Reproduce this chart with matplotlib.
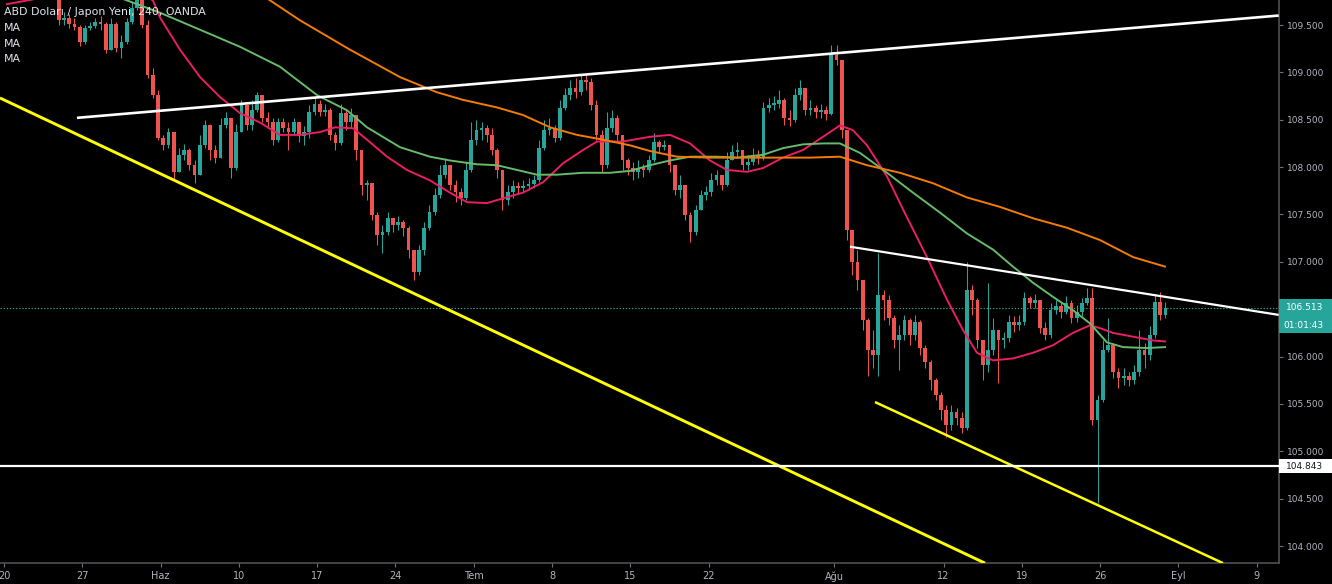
#USD/JPY 4h chart with moving averages and trend lines, TradingView style
import numpy as np
import matplotlib
matplotlib.use('Agg')
import matplotlib.pyplot as plt
import matplotlib.transforms as mtransforms
from matplotlib.patches import Rectangle

# time axis is in trading days counted from May 20 (weekdays only), 3 bars per day
first_bar_day = 3.5
bars_per_day = 3
first_open = 109.85

closes = [
    109.55, 109.57, 109.51, 109.48, 109.32, 109.47, 109.49, 109.53, 109.51, 109.24,
    109.51, 109.26, 109.32, 109.53, 109.68, 109.82, 109.50, 108.97, 108.76, 108.31,
    108.23, 108.37, 107.95, 108.13, 108.18, 108.02, 107.92, 108.23, 108.44, 108.18,
    108.10, 108.44, 108.52, 107.99, 108.37, 108.66, 108.44, 108.60, 108.76, 108.52,
    108.48, 108.29, 108.48, 108.41, 108.37, 108.48, 108.33, 108.37, 108.58, 108.67,
    108.58, 108.60, 108.34, 108.25, 108.57, 108.48, 108.55, 108.18, 107.81, 107.83,
    107.49, 107.28, 107.31, 107.46, 107.39, 107.42, 107.36, 107.13, 106.89, 107.13,
    107.36, 107.53, 107.71, 107.92, 108.02, 107.81, 107.74, 107.67, 107.97, 108.29,
    108.39, 108.41, 108.34, 108.18, 107.97, 107.65, 107.74, 107.80, 107.78, 107.80,
    107.82, 107.86, 108.20, 108.39, 108.41, 108.31, 108.62, 108.76, 108.84, 108.79,
    108.92, 108.90, 108.66, 108.34, 108.02, 108.41, 108.52, 108.34, 108.07, 107.99,
    107.95, 107.99, 107.97, 108.07, 108.27, 108.21, 108.23, 108.02, 107.76, 107.81,
    107.49, 107.31, 107.55, 107.71, 107.74, 107.86, 107.92, 107.81, 108.07, 108.16,
    108.18, 108.02, 108.05, 108.13, 108.10, 108.62, 108.66, 108.67, 108.71, 108.52,
    108.50, 108.76, 108.84, 108.60, 108.62, 108.58, 108.60, 108.56, 109.18, 109.13,
    108.39, 107.34, 107.00, 106.81, 106.39, 106.07, 106.02, 106.65, 106.60, 106.41,
    106.17, 106.23, 106.39, 106.23, 106.36, 106.09, 105.94, 105.75, 105.59, 105.44,
    105.28, 105.41, 105.35, 105.25, 106.70, 106.60, 106.17, 105.91, 106.07, 106.28,
    106.17, 106.20, 106.36, 106.33, 106.36, 106.62, 106.57, 106.60, 106.30, 106.23,
    106.49, 106.53, 106.47, 106.57, 106.41, 106.47, 106.57, 106.62, 105.33, 105.54,
    106.07, 106.12, 105.84, 105.77, 105.80, 105.75, 105.84, 106.07, 106.02, 106.23,
    106.58, 106.44, 106.513]

highs = [
    109.87, 109.64, 109.62, 109.57, 109.50, 109.50, 109.53, 109.57, 109.60, 109.53,
    109.57, 109.53, 109.39, 109.57, 109.74, 109.92, 109.87, 109.55, 109.05, 108.81,
    108.34, 108.41, 108.34, 108.20, 108.24, 108.20, 108.07, 108.34, 108.50, 108.46,
    108.23, 108.52, 108.58, 108.52, 108.46, 108.71, 108.66, 108.71, 108.79, 108.76,
    108.58, 108.52, 108.52, 108.52, 108.48, 108.52, 108.48, 108.43, 108.66, 108.73,
    108.71, 108.67, 108.62, 108.37, 108.67, 108.60, 108.62, 108.55, 108.18, 107.86,
    107.83, 107.53, 107.39, 107.53, 107.46, 107.48, 107.44, 107.38, 107.13, 107.18,
    107.42, 107.60, 107.78, 108.02, 108.10, 108.02, 107.86, 107.78, 108.05, 108.48,
    108.50, 108.48, 108.44, 108.41, 108.20, 107.97, 107.81, 107.86, 107.84, 107.86,
    107.88, 107.92, 108.29, 108.50, 108.52, 108.44, 108.71, 108.84, 108.92, 108.94,
    108.97, 108.98, 108.94, 108.71, 108.39, 108.58, 108.60, 108.55, 108.34, 108.10,
    108.05, 108.07, 108.03, 108.13, 108.36, 108.29, 108.29, 108.23, 108.02, 107.92,
    107.81, 107.53, 107.60, 107.76, 107.80, 107.94, 107.97, 107.92, 108.16, 108.23,
    108.27, 108.18, 108.13, 108.20, 108.18, 108.69, 108.73, 108.75, 108.81, 108.73,
    108.60, 108.84, 108.92, 108.84, 108.71, 108.66, 108.67, 108.65, 109.29, 109.29,
    109.13, 108.39, 107.34, 107.13, 106.81, 106.41, 106.28, 107.09, 106.70, 106.65,
    106.44, 106.33, 106.44, 106.41, 106.44, 106.39, 106.12, 105.96, 105.77, 105.63,
    105.49, 105.49, 105.46, 105.41, 107.00, 106.76, 106.62, 106.17, 106.78, 106.41,
    106.28, 106.26, 106.44, 106.43, 106.44, 106.68, 106.64, 106.66, 106.60, 106.36,
    106.57, 106.60, 106.58, 106.64, 106.60, 106.54, 106.62, 106.72, 106.72, 105.59,
    106.17, 106.41, 106.14, 105.88, 105.88, 105.84, 105.91, 106.28, 106.14, 106.32,
    106.66, 106.68, 106.58]

lows = [
    109.50, 109.50, 109.47, 109.45, 109.28, 109.30, 109.45, 109.47, 109.45, 109.20,
    109.24, 109.21, 109.15, 109.30, 109.51, 109.66, 109.47, 108.94, 108.73, 108.29,
    108.18, 108.20, 107.86, 107.95, 108.07, 107.97, 107.83, 107.92, 108.20, 108.07,
    108.04, 108.10, 108.41, 107.89, 107.97, 108.37, 108.39, 108.39, 108.58, 108.48,
    108.41, 108.23, 108.27, 108.37, 108.18, 108.34, 108.27, 108.23, 108.31, 108.55,
    108.54, 108.54, 108.29, 108.18, 108.23, 108.39, 108.41, 108.07, 107.71, 107.65,
    107.44, 107.18, 107.09, 107.28, 107.31, 107.34, 107.27, 107.04, 106.81, 106.86,
    107.07, 107.34, 107.49, 107.67, 107.89, 107.76, 107.63, 107.60, 107.65, 107.95,
    108.23, 108.29, 108.27, 108.13, 107.89, 107.55, 107.60, 107.67, 107.73, 107.74,
    107.76, 107.78, 107.84, 108.18, 108.34, 108.27, 108.29, 108.60, 108.71, 108.73,
    108.76, 108.81, 108.60, 108.29, 107.95, 107.99, 108.37, 108.27, 107.97, 107.92,
    107.86, 107.89, 107.90, 107.95, 108.05, 108.16, 108.18, 107.95, 107.71, 107.67,
    107.44, 107.21, 107.28, 107.55, 107.65, 107.69, 107.81, 107.76, 107.80, 108.07,
    108.10, 107.97, 107.97, 108.02, 108.03, 108.07, 108.58, 108.60, 108.62, 108.44,
    108.43, 108.48, 108.71, 108.55, 108.55, 108.52, 108.52, 108.50, 108.55, 109.08,
    108.31, 107.23, 106.86, 106.70, 106.28, 105.80, 105.88, 105.80, 106.39, 106.33,
    106.09, 105.86, 106.17, 106.12, 106.17, 106.02, 105.88, 105.65, 105.54, 105.33,
    105.15, 105.22, 105.28, 105.19, 105.22, 106.44, 106.09, 105.75, 105.84, 106.02,
    105.72, 106.09, 106.15, 106.26, 106.28, 106.33, 106.51, 106.51, 106.25, 106.17,
    106.20, 106.45, 106.41, 106.45, 106.35, 106.36, 106.43, 106.54, 105.28, 104.45,
    105.52, 106.05, 105.77, 105.67, 105.70, 105.69, 105.71, 105.80, 105.88, 105.96,
    106.20, 106.39, 106.41]

# moving averages (day, price)
ma_fast_days = [0.19, 1.85, 3.58, 5.49, 7.41, 9.00, 9.51, 9.96, 11.24, 12.52, 13.79, 15.07, 16.35,
                17.62, 18.90, 20.18, 21.14, 22.29, 23.18, 24.46, 25.73, 27.20, 28.48, 29.57, 30.84,
                31.86, 33.14, 34.42, 35.70, 36.97, 37.87, 39.53, 41.25, 42.53, 43.81, 45.08, 46.17,
                47.45, 48.47, 49.74, 51.02, 52.30, 53.38, 54.21, 55.11, 56.39, 57.66, 58.94, 60.22,
                61.24, 62.13, 63.15, 64.43, 65.71, 66.99, 68.26, 69.35, 69.99, 70.82, 72.10, 73.37, 74.14]
ma_fast = [109.72, 109.77, 109.89, 109.95, 109.92, 109.81, 109.76, 109.58, 109.24, 108.95, 108.74,
           108.57, 108.47, 108.34, 108.34, 108.37, 108.42, 108.41, 108.29, 108.11, 107.97, 107.86,
           107.73, 107.63, 107.62, 107.67, 107.73, 107.84, 108.04, 108.18, 108.27, 108.27, 108.32,
           108.34, 108.25, 108.07, 107.97, 107.95, 107.99, 108.10, 108.18, 108.32, 108.44, 108.39,
           108.23, 107.90, 107.47, 107.05, 106.60, 106.28, 106.04, 105.96, 105.98, 106.04, 106.12,
           106.25, 106.33, 106.30, 106.25, 106.21, 106.17, 106.16]

ma_mid_days = [6.13, 7.85, 9.96, 12.52, 15.07, 17.62, 19.99, 21.90, 23.18, 25.29, 27.20, 28.48, 30.20,
               31.48, 32.76, 34.04, 35.31, 36.97, 38.70, 39.97, 41.25, 42.53, 43.81, 45.53, 46.81,
               48.47, 49.74, 51.02, 52.30, 53.38, 54.66, 56.39, 58.05, 59.77, 61.49, 63.15, 64.43,
               65.71, 66.99, 68.26, 69.35, 70.43, 71.46, 72.99, 74.14]
ma_mid = [109.87, 109.76, 109.63, 109.45, 109.27, 109.06, 108.76, 108.60, 108.42, 108.21, 108.11,
          108.07, 108.03, 108.02, 107.97, 107.92, 107.92, 107.94, 107.94, 107.96, 108.02, 108.07,
          108.11, 108.11, 108.10, 108.13, 108.20, 108.24, 108.25, 108.25, 108.15, 107.94, 107.73,
          107.52, 107.30, 107.13, 106.95, 106.78, 106.63, 106.49, 106.35, 106.15, 106.10, 106.09, 106.10]

ma_slow_days = [15.71, 16.99, 18.90, 22.09, 25.29, 27.65, 29.31, 31.48, 33.14, 34.87, 36.59, 38.25,
                39.97, 41.25, 42.98, 45.08, 47.19, 49.36, 51.47, 53.38, 55.11, 57.22, 59.32, 61.49,
                63.60, 65.71, 67.88, 69.99, 72.10, 74.14]
ma_slow = [109.90, 109.76, 109.55, 109.24, 108.95, 108.79, 108.71, 108.63, 108.55, 108.42, 108.34,
           108.29, 108.23, 108.17, 108.11, 108.10, 108.10, 108.10, 108.10, 108.11, 108.02, 107.94,
           107.83, 107.68, 107.58, 107.46, 107.36, 107.23, 107.05, 106.95]

# drawn trend lines, (day, price) end points
upper_channel = ([4.66, 81.4], [108.52, 109.60])
lower_yellow = ([-0.26, 62.64], [108.73, 103.82])
short_yellow = ([55.62, 77.84], [105.52, 103.82])
wedge_top = ([54.02, 81.4], [107.16, 106.44])
support_level = 104.843
last_price = 106.513
countdown = '01:01:43'

tick_days = [0, 5, 10, 15, 20, 25, 30, 35, 40, 45, 53, 60, 65, 70, 75, 80]
tick_names = ['20', '27', 'Haz', '10', '17', '24', 'Tem', '8', '15', '22', 'Ağu', '12', '19', '26', 'Eyl', '9']
price_ticks = np.arange(104.0, 109.51, 0.5)

up_col = '#26a69a'
dn_col = '#ef5350'
txt_col = '#b2b5be'

c = np.array(closes)
h = np.array(highs)
l = np.array(lows)
o = np.append(first_open, c[:-1])
t = first_bar_day + np.arange(len(c)) / bars_per_day
cols = np.where(c >= o, up_col, dn_col)

fig = plt.figure(figsize=(13.32, 5.84), dpi=100, facecolor='black')
ax = fig.add_axes([0, 21/584, 1279/1332, 563/584])
ax.set_facecolor('black')
ax.set_xlim(-0.255, 81.42)
ax.set_ylim(103.821, 109.764)

# candles
ax.vlines(t, np.minimum(l, np.minimum(o, c)), np.maximum(h, np.maximum(o, c)), colors=cols, lw=0.75, zorder=2)
ax.bar(t, np.maximum(np.abs(c - o), 0.012), bottom=np.minimum(o, c), width=0.24, color=cols, lw=0, zorder=2)

# moving averages
ax.plot(ma_fast_days, ma_fast, color='#e91e63', lw=1.4, zorder=3, solid_joinstyle='round')
ax.plot(ma_mid_days, ma_mid, color='#66bb6a', lw=1.4, zorder=3, solid_joinstyle='round')
ax.plot(ma_slow_days, ma_slow, color='#f57c00', lw=1.4, zorder=3, solid_joinstyle='round')

# trend lines
ax.plot(*upper_channel, color='white', lw=1.9, zorder=4, solid_capstyle='butt')
ax.plot(*wedge_top, color='white', lw=1.6, zorder=4, solid_capstyle='butt')
ax.plot(*lower_yellow, color='#ffff00', lw=2.1, zorder=4, solid_capstyle='butt')
ax.plot(*short_yellow, color='#ffff00', lw=1.8, zorder=4, solid_capstyle='butt')
ax.axhline(support_level, color='white', lw=1.6, zorder=4)
ax.axhline(last_price, color=up_col, lw=0.8, ls=(0, (1.2, 1.6)), zorder=1)

for s in ['top', 'left']:
    ax.spines[s].set_visible(False)
for s in ['right', 'bottom']:
    ax.spines[s].set_color('#505050')
    ax.spines[s].set_linewidth(1.2)

ax.yaxis.tick_right()
ax.set_yticks(price_ticks)
ax.set_yticklabels(['%.3f' % v for v in price_ticks])
ax.set_xticks(tick_days)
ax.set_xticklabels(tick_names)
ax.tick_params(axis='y', colors='#707070', labelcolor=txt_col, labelsize=6.5, length=3, width=0.8, pad=2.5)
ax.tick_params(axis='x', colors='#707070', labelcolor=txt_col, labelsize=7, length=3, width=0.8, pad=3)

# price tags on the right scale
tr = mtransforms.blended_transform_factory(ax.transAxes, ax.transData)
tag_w = 53/1279
ax.add_patch(Rectangle((1.0, last_price - 0.09), tag_w, 0.18, transform=tr, clip_on=False, fc=up_col, ec='none', zorder=5))
ax.add_patch(Rectangle((1.0, last_price - 0.265), tag_w, 0.17, transform=tr, clip_on=False, fc=up_col, ec='none', zorder=5))
ax.add_patch(Rectangle((1.0, support_level - 0.075), tag_w, 0.15, transform=tr, clip_on=False, fc='white', ec='none', zorder=5))
ax.text(1.0 + 7/1279, last_price, '%.3f' % last_price, transform=tr, color='white', fontsize=6.5, va='center', ha='left', zorder=6)
ax.text(1.0 + 4/1279, last_price - 0.18, countdown, transform=tr, color='white', fontsize=6.5, va='center', ha='left', zorder=6)
ax.text(1.0 + 7/1279, support_level, '%.3f' % support_level, transform=tr, color='#131722', fontsize=6.5, va='center', ha='left', zorder=6)

# legend text top-left
fig.text(4/1332, 1 - 12/584, 'ABD Doları / Japon Yeni, 240, OANDA', color='#e0e3eb', fontsize=7.9, va='center', ha='left')
for k in range(3):
    fig.text(4/1332, 1 - (28 + 15.7*k)/584, 'MA', color='#e0e3eb', fontsize=7.9, va='center', ha='left')

plt.savefig('out.png', dpi=100, facecolor='black')
